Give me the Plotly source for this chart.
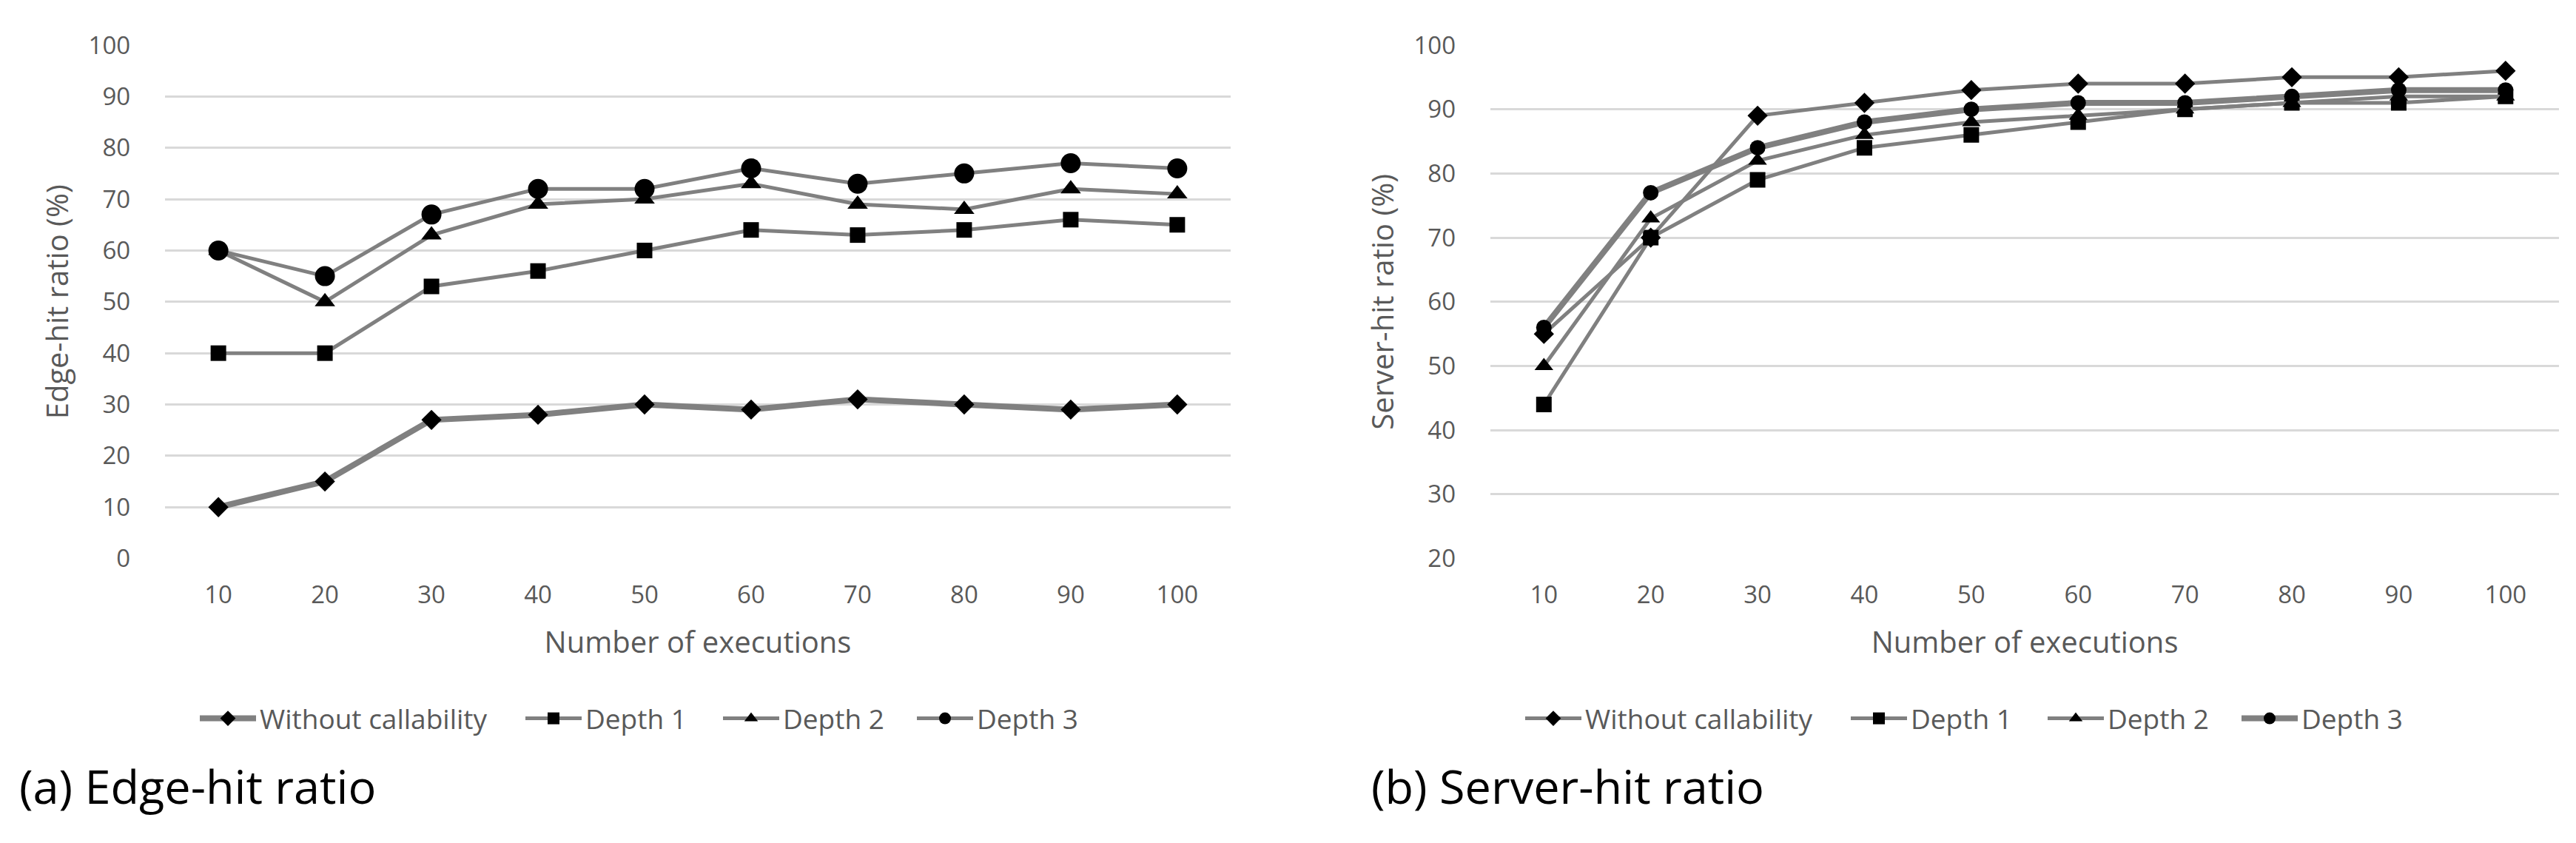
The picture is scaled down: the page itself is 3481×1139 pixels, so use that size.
import plotly.graph_objects as go

executions = ["10", "20", "30", "40", "50", "60", "70", "80", "90", "100"]
series_names = ["Without callability", "Depth 1", "Depth 2", "Depth 3"]

edge_without = [10, 15, 27, 28, 30, 29, 31, 30, 29, 30]
edge_depth1 = [40, 40, 53, 56, 60, 64, 63, 64, 66, 65]
edge_depth2 = [60, 50, 63, 69, 70, 73, 69, 68, 72, 71]
edge_depth3 = [60, 55, 67, 72, 72, 76, 73, 75, 77, 76]

server_without = [55, 70, 89, 91, 93, 94, 94, 95, 95, 96]
server_depth1 = [44, 70, 79, 84, 86, 88, 90, 91, 91, 92]
server_depth2 = [50, 73, 82, 86, 88, 89, 90, 91, 92, 92]
server_depth3 = [56, 77, 84, 88, 90, 91, 91, 92, 93, 93]

edge_ticks = list(range(0, 101, 10))
server_ticks = list(range(20, 101, 10))

W, H = 3481, 1139
FONT = "Open Sans"
GRAY_TXT = "#595959"
LINE = "#808080"
symbols = ["diamond", "square", "triangle-up", "circle"]
edge_sizes = [21, 21, 24, 27]
server_sizes = [21, 21, 22, 21]
edge_widths = [8, 5, 5, 5]
server_widths = [5, 5, 5, 8]

# legend entry left edges (px) for each item, one legend per entry
edge_legend_px = [257, 697, 964, 1226]
server_legend_px = [2048, 2488, 2754, 3016]

fig = go.Figure()

edge_series = [edge_without, edge_depth1, edge_depth2, edge_depth3]
server_series = [server_without, server_depth1, server_depth2, server_depth3]

legend_layouts = {}
for i, (name, vals) in enumerate(zip(series_names, edge_series)):
    lid = f"legend{i + 2}"
    fig.add_trace(go.Scatter(
        x=executions, y=vals, name=name, mode="lines+markers",
        line=dict(color=LINE, width=edge_widths[i]),
        marker=dict(symbol=symbols[i], size=edge_sizes[i], color="black"),
        xaxis="x", yaxis="y", legend=lid,
    ))
    legend_layouts[lid] = edge_legend_px[i]

for i, (name, vals) in enumerate(zip(series_names, server_series)):
    lid = f"legend{i + 6}"
    fig.add_trace(go.Scatter(
        x=executions, y=vals, name=name, mode="lines+markers",
        line=dict(color=LINE, width=server_widths[i]),
        marker=dict(symbol=symbols[i], size=server_sizes[i], color="black"),
        xaxis="x2", yaxis="y2", legend=lid,
    ))
    legend_layouts[lid] = server_legend_px[i]

xcommon = dict(
    type="category", range=[-0.5, 9.5], showgrid=False, showline=False,
    zeroline=False, ticks="", ticklabelstandoff=26,
    tickfont=dict(family=FONT, size=33, color=GRAY_TXT),
)
ycommon = dict(
    showgrid=True, gridcolor="#d9d9d9", gridwidth=3, zeroline=False,
    showline=False, ticks="", ticklabelstandoff=46,
    tickfont=dict(family=FONT, size=33, color=GRAY_TXT),
)

fig.update_layout(
    width=W, height=H,
    margin=dict(l=0, r=0, t=0, b=0, autoexpand=False),
    paper_bgcolor="white", plot_bgcolor="white",
    font=dict(family=FONT, color=GRAY_TXT),
    xaxis=dict(domain=[0.0618, 0.4754], anchor="y",
               title=dict(text="Number of executions", standoff=30,
                          font=dict(family=FONT, size=40, color=GRAY_TXT)),
               **xcommon),
    yaxis=dict(domain=[0.3445, 0.9535], anchor="x", range=[0, 100],
               tickvals=edge_ticks,
               title=dict(text="Edge-hit ratio (%)", standoff=14,
                          font=dict(family=FONT, size=40, color=GRAY_TXT)),
               **ycommon),
    xaxis2=dict(domain=[0.5763, 0.9911], anchor="y2",
                title=dict(text="Number of executions", standoff=30,
                           font=dict(family=FONT, size=40, color=GRAY_TXT)),
                **xcommon),
    yaxis2=dict(domain=[0.3445, 0.9535], anchor="x2", range=[20, 100],
                tickvals=server_ticks,
                title=dict(text="Server-hit ratio (%)", standoff=14,
                           font=dict(family=FONT, size=40, color=GRAY_TXT)),
                **ycommon),
    annotations=[
        dict(text="(a) Edge-hit ratio", x=0.0046, y=0.0755, xref="paper",
             yref="paper", xanchor="left", yanchor="middle", showarrow=False,
             font=dict(family=FONT, size=63, color="black")),
        dict(text="(b) Server-hit ratio", x=0.5294, y=0.0755, xref="paper",
             yref="paper", xanchor="left", yanchor="middle", showarrow=False,
             font=dict(family=FONT, size=63, color="black")),
    ],
)

for lid, px in legend_layouts.items():
    fig.update_layout({lid: dict(
        orientation="h", x=px / W, xanchor="left", y=0.1545,
        yanchor="middle", itemwidth=76, bgcolor="rgba(0,0,0,0)",
        font=dict(family=FONT, size=37, color=GRAY_TXT),
    )})

fig.write_html("out.html")
